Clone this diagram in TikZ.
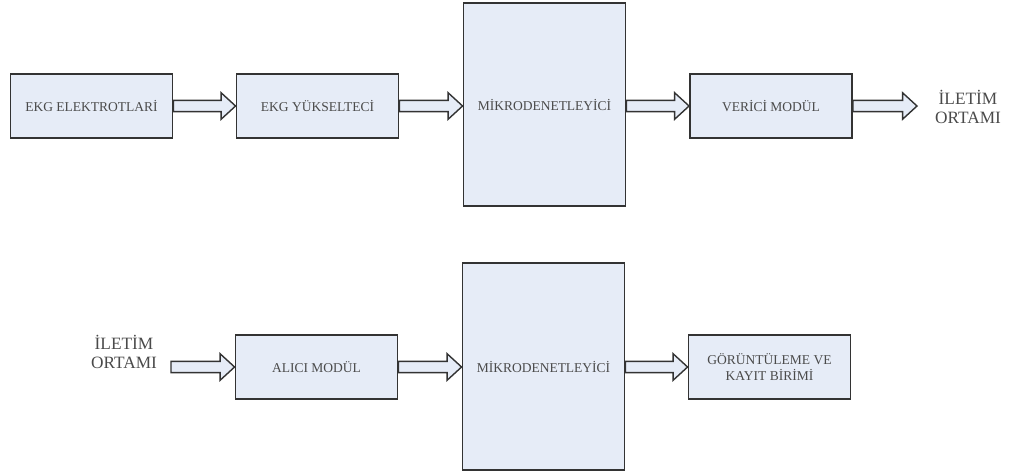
\documentclass[tikz,border=0pt]{standalone}
\usepackage{fontspec}
\setmainfont{Liberation Serif}
\usetikzlibrary{calc}

\definecolor{kutumavi}{HTML}{E6ECF7}
\definecolor{kenar}{HTML}{333333}
\definecolor{yazi}{HTML}{4A4A4A}

% icini bos kalin ok
\newcommand{\kalinok}[2]{%
  \draw[okcizgi] let \p1=(#1), \p2=(#2) in
    (\x1,\y1+0.14cm) -- (\x2-0.36cm,\y1+0.14cm) -- (\x2-0.36cm,\y1+0.33cm)
    -- (\x2,\y1) -- (\x2-0.36cm,\y1-0.33cm) -- (\x2-0.36cm,\y1-0.14cm)
    -- (\x1,\y1-0.14cm) -- cycle;}

\begin{document}
\begin{tikzpicture}[x=0.025cm,y=-0.025cm,
  blok/.style={draw=kenar,line width=1.3pt,fill=kutumavi,
    minimum width=4.05cm,minimum height=1.58cm,inner sep=2pt,
    font=\fontsize{9.6}{11.5}\selectfont,text=yazi,align=center},
  mikro/.style={blok,minimum height=5.07cm},
  okcizgi/.style={draw=kenar,line width=1pt,fill=kutumavi,line join=miter},
  etiket/.style={font=\fontsize{12.3}{14}\selectfont,text=yazi,align=center}]
\useasboundingbox (0,0) rectangle (1014,475);

% verici tarafi
\node[blok] (elektrot) at (91.5,106) {EKG ELEKTROTLARİ};
\node[blok] (yukselteci) at (317.5,106) {EKG YÜKSELTECİ};
\node[mikro] (mikro1) at (544.5,104.5) {MİKRODENETLEYİCİ};
\node[blok] (verici) at (771,106) {VERİCİ MODÜL};
\coordinate (cikis) at (917,106);
\node[etiket] (ortam1) at (968,107) {İLETİM\\ORTAMI};

\kalinok{elektrot.east}{yukselteci.west}
\kalinok{yukselteci.east}{mikro1.west |- yukselteci.east}
\kalinok{mikro1.east |- verici.west}{verici.west}
\kalinok{verici.east}{cikis}

% alici tarafi
\node[etiket] (ortam2) at (124,352) {İLETİM\\ORTAMI};
\coordinate (giris) at (171,367);
\node[blok] (alici) at (316.5,367) {ALICI MODÜL};
\node[mikro,minimum height=5.17cm] (mikro2) at (543.5,366.5) {MİKRODENETLEYİCİ};
\node[blok] (kayit) at (769.5,367) {GÖRÜNTÜLEME VE\\KAYIT BİRİMİ};

\kalinok{giris}{alici.west}
\kalinok{alici.east}{mikro2.west |- alici.east}
\kalinok{mikro2.east |- kayit.west}{kayit.west}

\end{tikzpicture}
\end{document}
